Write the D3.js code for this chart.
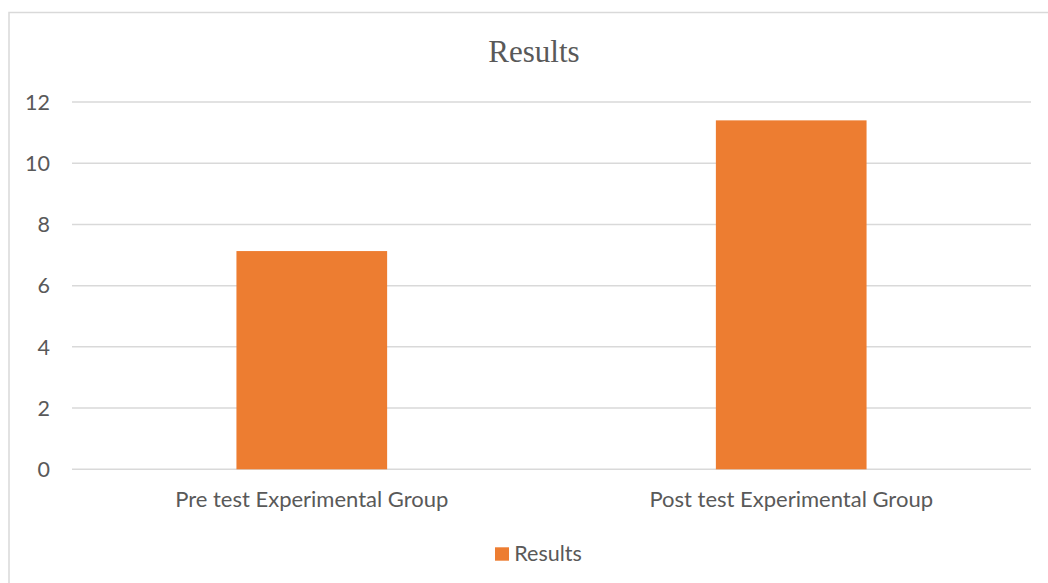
<!DOCTYPE html>
<html><head><meta charset="utf-8">
<script src="https://cdn.jsdelivr.net/npm/d3@7"></script>
<style>body{margin:0;background:#fff}svg{display:block}</style>
</head><body>
<script>
const categories = ["Pre test Experimental Group", "Post test Experimental Group"];
const values = [7.13, 11.4];
const seriesName = "Results";
const yTicks = [0, 2, 4, 6, 8, 10, 12];

const W = 1048, H = 583;
const svg = d3.select("body").append("svg").attr("width", W).attr("height", H);
svg.append("rect").attr("width", W).attr("height", H).attr("fill", "#fff");
// chart frame
svg.append("path").attr("d", `M9,${H+5} V12.5 H${W+5}`).attr("fill","none").attr("stroke","#d9d9d9").attr("stroke-width",1.5);

const x0 = 72, x1 = 1031, yTop = 102, yBot = 469.3;
const x = d3.scaleBand().domain(categories).range([x0, x1]).paddingInner(0.6857).paddingOuter(0.343);
const y = d3.scaleLinear().domain([0, 12]).range([yBot, yTop]);
const font = "Lato, 'Open Sans', sans-serif";

svg.append("g").selectAll("line").data(yTicks).join("line")
  .attr("x1", x0).attr("x2", x1).attr("y1", d => y(d)).attr("y2", d => y(d))
  .attr("stroke", "#d9d9d9").attr("stroke-width", 1.5);

svg.append("g").selectAll("text").data(yTicks).join("text")
  .attr("x", 50).attr("y", d => y(d)).attr("dy", "0.36em").attr("text-anchor", "end")
  .attr("font-family", font).attr("font-size", 21.5).attr("fill", "#595959").text(d => d);

svg.append("g").selectAll("rect").data(values).join("rect")
  .attr("x", (d, i) => x(categories[i])).attr("width", x.bandwidth())
  .attr("y", d => y(d)).attr("height", d => yBot - y(d)).attr("fill", "#ed7d31");

svg.append("g").selectAll("text").data(categories).join("text")
  .attr("x", d => x(d) + x.bandwidth() / 2).attr("y", 507).attr("text-anchor", "middle")
  .attr("font-family", font).attr("font-size", 22).attr("fill", "#595959").text(d => d);

svg.append("text").attr("x", 534).attr("y", 61.5).attr("text-anchor", "middle")
  .attr("font-family", "'Liberation Serif', 'Times New Roman', serif").attr("font-size", 31)
  .attr("fill", "#595959").text(seriesName);

const lg = svg.append("g");
lg.append("rect").attr("x", 495).attr("y", 547.3).attr("width", 14).attr("height", 13.4).attr("fill", "#ed7d31");
lg.append("text").attr("x", 514.3).attr("y", 561).attr("font-family", font).attr("font-size", 21.5)
  .attr("fill", "#595959").text(seriesName);
</script>
</body></html>
